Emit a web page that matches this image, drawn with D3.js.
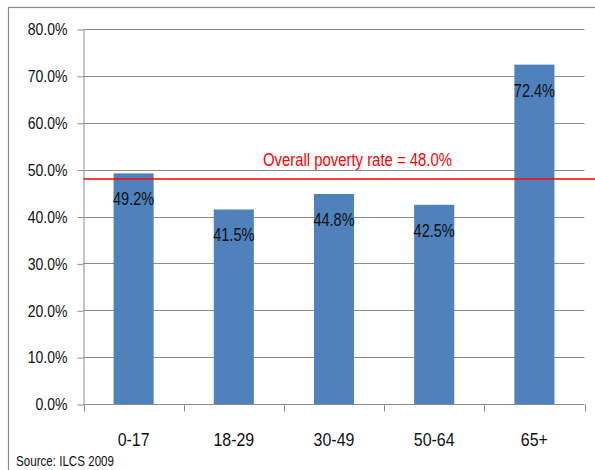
<!DOCTYPE html>
<html>
<head>
<meta charset="utf-8">
<script src="https://cdn.jsdelivr.net/npm/d3@7"></script>
<style>
    body { margin: 0; background: #fff; }
    svg { display: block; }
    text { font-family: "Liberation Sans", Arial, sans-serif; }
</style>
</head>
<body>
<svg id="chart" width="595" height="470"></svg>
<script>
// Data
const ageGroups = ['0-17', '18-29', '30-49', '50-64', '65+'];
const povertyRates = [0.492, 0.415, 0.448, 0.425, 0.724];
const overallRate = 0.48;
const yTicks = [0, 0.1, 0.2, 0.3, 0.4, 0.5, 0.6, 0.7, 0.8];
const overallLabel = 'Overall poverty rate = 48.0%';
const sourceNote = 'Source: ILCS 2009';

const svg = d3.select('#chart');

const margins = { left: 83.5, right: 10.5, top: 29, bottom: 66 };
const width = 595;
const height = 470;

// Narrow the glyphs to mimic the condensed font of the original
function squeeze(selection, factor) {
    selection.each(function() {
        const w = this.getComputedTextLength();
        d3.select(this)
            .attr('textLength', w * factor)
            .attr('lengthAdjust', 'spacingAndGlyphs');
    });
}

// Outer frame
svg.append('rect')
    .attr('x', 8.5)
    .attr('y', 7.5)
    .attr('width', 620)
    .attr('height', 520)
    .style('fill', 'none')
    .style('stroke', '#8a8a8a')
    .style('stroke-width', 1.2);

// Scales
const x = d3.scaleBand()
    .domain(ageGroups)
    .range([margins.left, width - margins.right]);

const y = d3.scaleLinear()
    .domain([0, 0.8])
    .range([height - margins.bottom, margins.top]);

const pct = d3.format('.1%');

// Gridlines
svg.append('g')
    .selectAll('line')
    .data(yTicks.slice(1))
    .join('line')
    .attr('x1', margins.left)
    .attr('x2', width - margins.right)
    .attr('y1', d => Math.round(y(d)) + 0.5)
    .attr('y2', d => Math.round(y(d)) + 0.5)
    .style('stroke', '#8c8c8c')
    .style('stroke-width', 1);

// Y axis
const yAxis = d3.axisLeft(y)
    .tickValues(yTicks)
    .tickFormat(pct)
    .tickSize(6)
    .tickPadding(10)
    .tickSizeOuter(0);

const yAxisContainer = svg.append('g')
    .attr('transform', `translate(${margins.left}, 0.5)`)
    .call(yAxis);
yAxisContainer.select('.domain').style('stroke', '#8c8c8c');
yAxisContainer.selectAll('.tick line').style('stroke', '#8c8c8c');
yAxisContainer.selectAll('.tick text')
    .style('font-size', '16.5px')
    .style('font-family', '"Liberation Sans", Arial, sans-serif')
    .style('fill', '#111')
    .call(squeeze, 0.85);

// Bars
const barWidth = x.bandwidth() * 0.4;
svg.append('g')
    .selectAll('rect')
    .data(povertyRates)
    .join('rect')
    .attr('x', (d, i) => x(ageGroups[i]) + (x.bandwidth() - barWidth) / 2)
    .attr('y', d => y(d))
    .attr('width', barWidth)
    .attr('height', d => y(0) - y(d))
    .style('fill', '#4f81bd');

// X axis (tick marks at band edges)
const xAxisY = Math.round(y(0)) + 0.5;
svg.append('line')
    .attr('x1', margins.left)
    .attr('x2', width - margins.right)
    .attr('y1', xAxisY)
    .attr('y2', xAxisY)
    .style('stroke', '#8c8c8c');

const edges = ageGroups.map(d => x(d)).concat([x.range()[1]]);
svg.append('g')
    .selectAll('line')
    .data(edges)
    .join('line')
    .attr('x1', d => Math.round(d) + 0.5)
    .attr('x2', d => Math.round(d) + 0.5)
    .attr('y1', xAxisY)
    .attr('y2', xAxisY + 7)
    .style('stroke', '#8c8c8c');

svg.append('g')
    .selectAll('text')
    .data(ageGroups)
    .join('text')
    .attr('x', d => x(d) + x.bandwidth() / 2)
    .attr('y', 446)
    .style('text-anchor', 'middle')
    .style('font-size', '19px')
    .style('fill', '#111')
    .text(d => d)
    .call(squeeze, 0.84);

// Value labels inside bars
svg.append('g')
    .selectAll('text')
    .data(povertyRates)
    .join('text')
    .attr('x', (d, i) => x(ageGroups[i]) + x.bandwidth() / 2)
    .attr('y', d => y(d) + 32)
    .style('text-anchor', 'middle')
    .style('font-size', '17.5px')
    .style('fill', '#111')
    .text(d => pct(d))
    .call(squeeze, 0.83);

// Overall rate line
svg.append('line')
    .attr('x1', margins.left)
    .attr('x2', width)
    .attr('y1', y(overallRate))
    .attr('y2', y(overallRate))
    .style('stroke', '#ff0000')
    .style('stroke-width', 1.5);

svg.append('text')
    .attr('x', 263)
    .attr('y', y(overallRate) - 13)
    .style('font-size', '17.5px')
    .style('fill', '#ff0000')
    .text(overallLabel)
    .call(squeeze, 0.85);

// Source note
svg.append('text')
    .attr('x', 16)
    .attr('y', 466)
    .style('font-size', '14.5px')
    .style('fill', '#111')
    .text(sourceNote)
    .call(squeeze, 0.8);
</script>
</body>
</html>
